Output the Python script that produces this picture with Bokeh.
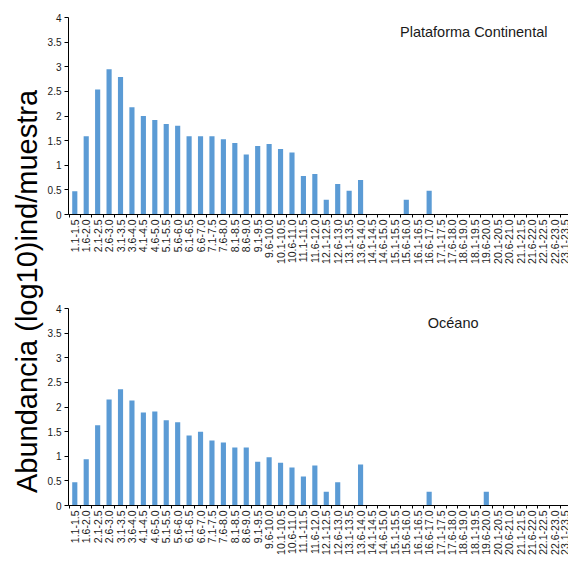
from math import pi
from bokeh.plotting import figure
from bokeh.models import Range1d, FixedTicker, CustomJSTickFormatter, Label
from bokeh.layouts import row, column
from bokeh.embed import file_html
from bokeh.resources import INLINE

categories = ["1.1-1.5", "1.6-2.0", "2.1-2.5", "2.6-3.0", "3.1-3.5", "3.6-4.0",
              "4.1-4.5", "4.6-5.0", "5.1-5.5", "5.6-6.0", "6.1-6.5", "6.6-7.0",
              "7.1-7.5", "7.6-8.0", "8.1-8.5", "8.6-9.0", "9.1-9.5", "9.6-10.0",
              "10.1-10.5", "10.6-11.0", "11.1-11.5", "11.6-12.0", "12.1-12.5",
              "12.6-13.0", "13.1-13.5", "13.6-14.0", "14.1-14.5", "14.6-15.0",
              "15.1-15.5", "15.6-16.0", "16.1-16.5", "16.6-17.0", "17.1-17.5",
              "17.6-18.0", "18.6-19.0", "18.1-19.5", "19.6-20.0", "20.1-20.5",
              "20.6-21.0", "21.1-21.5", "21.6-22.0", "22.1-22.5", "22.6-23.0",
              "23.1-23.5"]

plataforma = [0.47, 1.59, 2.54, 2.95, 2.79, 2.18, 2.00, 1.92, 1.84, 1.80, 1.59,
              1.59, 1.59, 1.53, 1.45, 1.22, 1.39, 1.43, 1.33, 1.26, 0.78, 0.82,
              0.30, 0.62, 0.48, 0.70, 0, 0, 0, 0.30, 0, 0.48,
              0, 0, 0, 0, 0, 0, 0, 0, 0, 0, 0, 0]

oceano = [0.47, 0.94, 1.63, 2.15, 2.36, 2.13, 1.89, 1.91, 1.73, 1.69, 1.42,
          1.50, 1.32, 1.28, 1.18, 1.18, 0.89, 0.98, 0.87, 0.77, 0.59, 0.81,
          0.28, 0.47, 0, 0.83, 0, 0, 0, 0, 0, 0.28, 0, 0, 0, 0, 0.28,
          0, 0, 0, 0, 0, 0, 0]

y_ticks = [0, 0.5, 1, 1.5, 2, 2.5, 3, 3.5, 4]
panel_titles = ["Plataforma Continental", "Océano"]
y_title = "Abundancia (log10)ind/muestra"

FONT = "Liberation Sans"
BAR = "#5b9bd5"
TXT = "#1a1a1a"


def panel(vals, title, height, b_top, b_bottom, tx, ty):
    idx = list(range(len(categories)))
    p = figure(width=524, height=height, output_backend="svg", toolbar_location=None,
               x_range=Range1d(-0.55, 43.19), y_range=Range1d(0, 4),
               min_border_left=24, min_border_right=0,
               min_border_top=b_top, min_border_bottom=b_bottom)
    p.outline_line_color = None
    p.grid.visible = False
    p.vbar(x=idx, top=vals, width=0.45, fill_color=BAR, line_color=None)

    xa = p.xaxis[0]
    xa.ticker = FixedTicker(ticks=idx, minor_ticks=[i - 0.5 for i in idx] + [len(idx) - 0.5])
    xa.major_label_overrides = {i: c for i, c in enumerate(categories)}
    xa.major_label_orientation = pi / 2
    xa.major_tick_out = 0
    xa.major_tick_in = 0
    xa.minor_tick_out = 3
    xa.minor_tick_in = 0
    xa.major_label_standoff = 2
    xa.axis_line_color = "#000000"
    xa.minor_tick_line_color = "#000000"
    xa.major_label_text_font = FONT
    xa.major_label_text_font_size = "10.5px"
    xa.major_label_text_color = TXT

    ya = p.yaxis[0]
    ya.ticker = FixedTicker(ticks=y_ticks)
    ya.formatter = CustomJSTickFormatter(code="return tick.toString();")
    ya.major_tick_out = 4
    ya.major_tick_in = 0
    ya.minor_tick_out = 0
    ya.minor_tick_in = 0
    ya.major_label_standoff = 3
    ya.axis_line_color = "#000000"
    ya.major_tick_line_color = "#000000"
    ya.major_label_text_font = FONT
    ya.major_label_text_font_size = "10px"
    ya.major_label_text_color = TXT

    p.add_layout(Label(x=tx, y=ty, text=title, text_align="center",
                       text_baseline="middle", text_font=FONT,
                       text_font_size="14.5px", text_color=TXT))
    return p


top = panel(plataforma, panel_titles[0], 298, 17, 84, 34.9, 3.70)
bottom = panel(oceano, panel_titles[1], 267, 10, 60, 33.1, 3.70)

lf = figure(width=44, height=565, output_backend="svg", toolbar_location=None,
            x_range=Range1d(0, 44), y_range=Range1d(0, 565), min_border=0,
            x_axis_location=None, y_axis_location=None)
lf.outline_line_color = None
lf.grid.visible = False
lf.add_layout(Label(x=26, y=274, text=y_title, angle=pi / 2, text_align="center",
                    text_baseline="middle", text_font=FONT,
                    text_font_size="29px", text_color="#000000"))

layout = row(lf, column(top, bottom))
open("out.html", "w").write(file_html(layout, INLINE))
